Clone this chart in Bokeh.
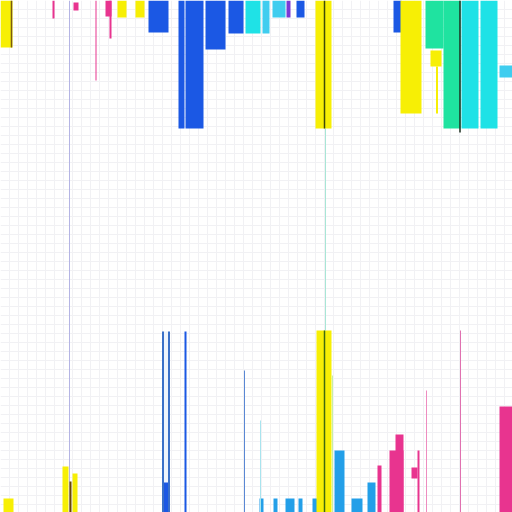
from bokeh.plotting import figure
from bokeh.models import Range1d, SingleIntervalTicker, ColumnDataSource
from bokeh.embed import file_html
from bokeh.resources import INLINE

# palette by series name
palette = {
    "yellow": "#f7ef05",
    "blue": "#1b58e4",
    "cyan": "#1fe2e6",
    "lcyan": "#3fcdef",
    "green": "#1fe3a0",
    "pink": "#e8348f",
    "purple": "#7b3ad6",
    "sky": "#239fe8",
    "pale": "#eef4fc",
}

# hanging bars (from the top edge)
top_series = ["yellow", "pink", "pink", "pink", "pink", "pink", "yellow", "yellow",
              "blue", "blue", "blue", "blue", "blue", "cyan", "lcyan", "lcyan",
              "purple", "blue", "yellow", "blue", "yellow", "green", "yellow",
              "green", "cyan", "cyan", "lcyan"]
top_left = [0, 52, 73, 95, 105, 109, 117, 135, 148, 178, 185, 205, 228, 245, 262, 272,
            286, 296, 315, 393, 400, 425, 430, 443, 461, 480, 499]
top_right = [12, 54, 78, 96, 111, 111, 126, 144, 168, 184, 203, 225, 243, 260, 269, 285,
             290, 304, 331, 401, 421, 443, 441, 460, 478, 497, 512]
top_start = [0, 0, 2, 0, 0, 0, 0, 0, 0, 0, 0, 0, 0, 0, 0, 0,
             0, 0, 0, 0, 0, 0, 50, 0, 0, 0, 65]
top_end = [47, 18, 10, 80, 16, 38, 17, 17, 32, 128, 128, 49, 33, 33, 33, 17,
           17, 17, 128, 32, 113, 48, 66, 128, 128, 128, 77]

# rising bars (from the bottom edge)
bot_series = ["yellow", "yellow", "yellow", "pale", "blue", "sky", "sky", "sky", "sky",
              "sky", "yellow", "sky", "sky", "sky", "pink", "pink", "pink", "pink", "pink"]
bot_left = [3, 62, 72, 162, 162, 259, 273, 285, 298, 312, 316, 334, 351, 367, 377, 389,
            395, 411, 499]
bot_right = [13, 68, 77, 169, 169, 263, 277, 294, 302, 317, 331, 344, 362, 375, 381, 403,
             403, 417, 512]
bot_start = [498, 466, 473, 331, 482, 498, 498, 498, 498, 498, 330, 450, 498, 482, 465, 450,
             434, 467, 406]
bot_end = [512, 512, 512, 512, 512, 512, 512, 512, 512, 512, 512, 512, 512, 512, 512, 512,
           512, 478, 512]

# thin strokes
line_x = [69, 325, 11, 324, 459.5, 70, 162.5, 168.5, 185, 244, 260, 324, 332, 418, 426, 460, 436.5]
line_y0 = [0, 128, 0, 0, 0, 481, 331, 331, 331, 370, 420, 330, 375, 450, 390, 330, 66]
line_y1 = [512, 330, 47, 128, 132, 512, 512, 512, 512, 512, 512, 512, 512, 512, 512, 512, 113]
line_color = ["#b4b4e4", "#a8e6d6", "#7a5a10", "#3d4a08", "#1b2e20", "#6b4a00", "#3a70c8",
              "#3a70c8", "#1b58e4", "#5a88d4", "#a8e4ee", "#3d6a10", "#c8f0a0", "#e8348f",
              "#ee8cc0", "#e070b0", "#f7ef05"]
line_w = [1, 1, 1.5, 1.5, 1.5, 2, 2, 2, 2, 1, 1, 1.5, 1, 2, 1, 1, 2]

p = figure(width=512, height=512, x_range=Range1d(0, 512), y_range=Range1d(512, 0),
           output_backend="svg", toolbar_location=None, min_border=0,
           outline_line_color=None, background_fill_color="white")
p.axis.visible = False
p.xgrid.ticker = SingleIntervalTicker(interval=9)
p.ygrid.ticker = SingleIntervalTicker(interval=9)
p.grid.grid_line_color = "#f1f1f4"
p.grid.grid_line_width = 1

top_src = ColumnDataSource(dict(left=top_left, right=top_right, top=top_start, bottom=top_end,
                                color=[palette[s] for s in top_series]))
p.quad(left="left", right="right", top="top", bottom="bottom", fill_color="color",
       line_color=None, source=top_src)

bot_src = ColumnDataSource(dict(left=bot_left, right=bot_right, top=bot_start, bottom=bot_end,
                                color=[palette[s] for s in bot_series]))
p.quad(left="left", right="right", top="top", bottom="bottom", fill_color="color",
       line_color=None, source=bot_src)

line_src = ColumnDataSource(dict(x=line_x, y0=line_y0, y1=line_y1, color=line_color, w=line_w))
p.segment(x0="x", y0="y0", x1="x", y1="y1", line_color="color", line_width="w", source=line_src)

open("out.html", "w").write(file_html(p, INLINE))
